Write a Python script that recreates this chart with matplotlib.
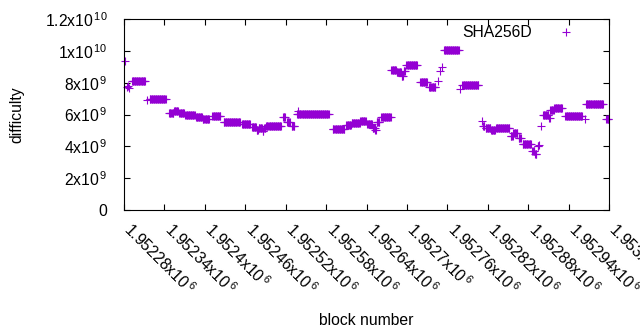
import numpy as np
import matplotlib.pyplot as plt
import matplotlib.transforms as mtransforms

plt.rcParams['font.family'] = ['Liberation Sans', 'DejaVu Sans']
plt.rcParams['mathtext.fontset'] = 'custom'
plt.rcParams['mathtext.rm'] = 'Liberation Sans'
plt.rcParams['mathtext.it'] = 'Liberation Sans:italic'

# difficulty runs: first block, last block, difficulty (x1e9)
base_block = 1952280
run_start = [1, 4, 6, 8, 12, 34, 38, 67, 74, 82, 91, 107, 117, 131, 148, 175, 190, 197,
             200, 206, 208, 211, 236, 242, 249, 257, 259, 310, 330, 338, 351, 361, 369,
             373, 375, 382, 397, 405, 412, 415, 419, 440, 453, 466, 469, 472, 475, 499,
             502, 531, 533, 537, 545, 552, 574, 578, 586, 592, 606, 610, 614, 616, 619,
             622, 631, 633, 639, 655, 684, 686, 716]
run_end = [1, 4, 6, 8, 31, 34, 62, 73, 80, 89, 105, 116, 126, 143, 172, 187, 196, 199,
           205, 207, 210, 233, 239, 246, 253, 304, 259, 327, 337, 350, 359, 368, 372,
           374, 379, 396, 404, 411, 414, 417, 435, 450, 462, 466, 469, 472, 497, 499,
           526, 531, 535, 544, 551, 572, 577, 584, 589, 604, 609, 612, 615, 616, 619,
           630, 632, 638, 650, 680, 684, 711, 719]
run_level = [9.34, 7.75, 7.82, 7.68, 8.09, 6.92, 6.98, 6.10, 6.25, 6.12, 5.96, 5.85, 5.70,
             5.92, 5.55, 5.43, 5.20, 5.05, 5.18, 4.98, 5.15, 5.25, 5.85, 5.54, 5.30, 6.05,
             6.20, 5.12, 5.33, 5.47, 5.60, 5.39, 5.18, 5.02, 5.54, 5.85, 8.80, 8.65, 8.45,
             8.72, 9.13, 8.07, 7.70, 8.10, 8.72, 8.98, 10.03, 7.63, 7.88, 5.58, 5.30, 5.14,
             5.03, 5.16, 4.62, 4.82, 4.50, 4.12, 3.72, 3.50, 4.02, 4.10, 5.27, 6.00, 5.75,
             6.27, 6.41, 5.92, 5.72, 6.69, 5.72]

blocks = []
difficulty = []
for s, e, lv in zip(run_start, run_end, run_level):
    for b in range(s, e + 1):
        blocks.append(base_block + b)
        difficulty.append(lv * 1e9)

x_ticks = np.arange(1952280, 1953001, 60)
y_ticks = [0, 2e9, 4e9, 6e9, 8e9, 1e10, 1.2e10]
y_labels = ['0', r'2x10$^{\,9}$', r'4x10$^{\,9}$', r'6x10$^{\,9}$', r'8x10$^{\,9}$',
            r'1x10$^{\,10}$', r'1.2x10$^{\,10}$']

fig = plt.figure(figsize=(6.4, 3.3), dpi=100)
ax = fig.add_axes([124/640, 1 - 210/330, 485/640, 191/330])

ax.plot(blocks, difficulty, linestyle='none', marker='+', markersize=5.5,
        markeredgewidth=0.8, color='#9400d3', label='SHA256D', clip_on=False)

ax.set_xlim(1952280, 1953000)
ax.set_ylim(0, 1.2e10)
ax.set_xticks(x_ticks)
ax.set_xticklabels(['%gx10$^{\\:6}$' % (t / 1e6) for t in x_ticks],
                   rotation=-45, ha='left', va='top', rotation_mode='anchor')
ax.set_yticks(y_ticks)
ax.set_yticklabels(y_labels)

ax.tick_params(direction='in', length=4, width=0.8, top=True, right=True,
               labelsize=11.3, colors='black')
ax.tick_params(axis='x', pad=7)
ax.tick_params(axis='y', pad=12)
for sp in ax.spines.values():
    sp.set_linewidth(0.8)

# nudge the rotated labels so they start at the tick
shift = mtransforms.ScaledTranslation(10/100, 0, fig.dpi_scale_trans)
for lbl in ax.get_xticklabels():
    lbl.set_transform(lbl.get_transform() + shift)

ax.set_xlabel('block number', fontsize=11.3)
ax.set_ylabel('difficulty', fontsize=11.3)
ax.xaxis.set_label_coords(0.5, -103/191)
ax.yaxis.set_label_coords(-100/485, 0.5)

ax.legend(loc='upper right', bbox_to_anchor=(1 - 16/485, 1 - 6/191), frameon=False,
          markerfirst=False, handlelength=3.5, handletextpad=0.4, borderpad=0,
          borderaxespad=0, fontsize=11.3)

fig.savefig('out.png', dpi=100)
